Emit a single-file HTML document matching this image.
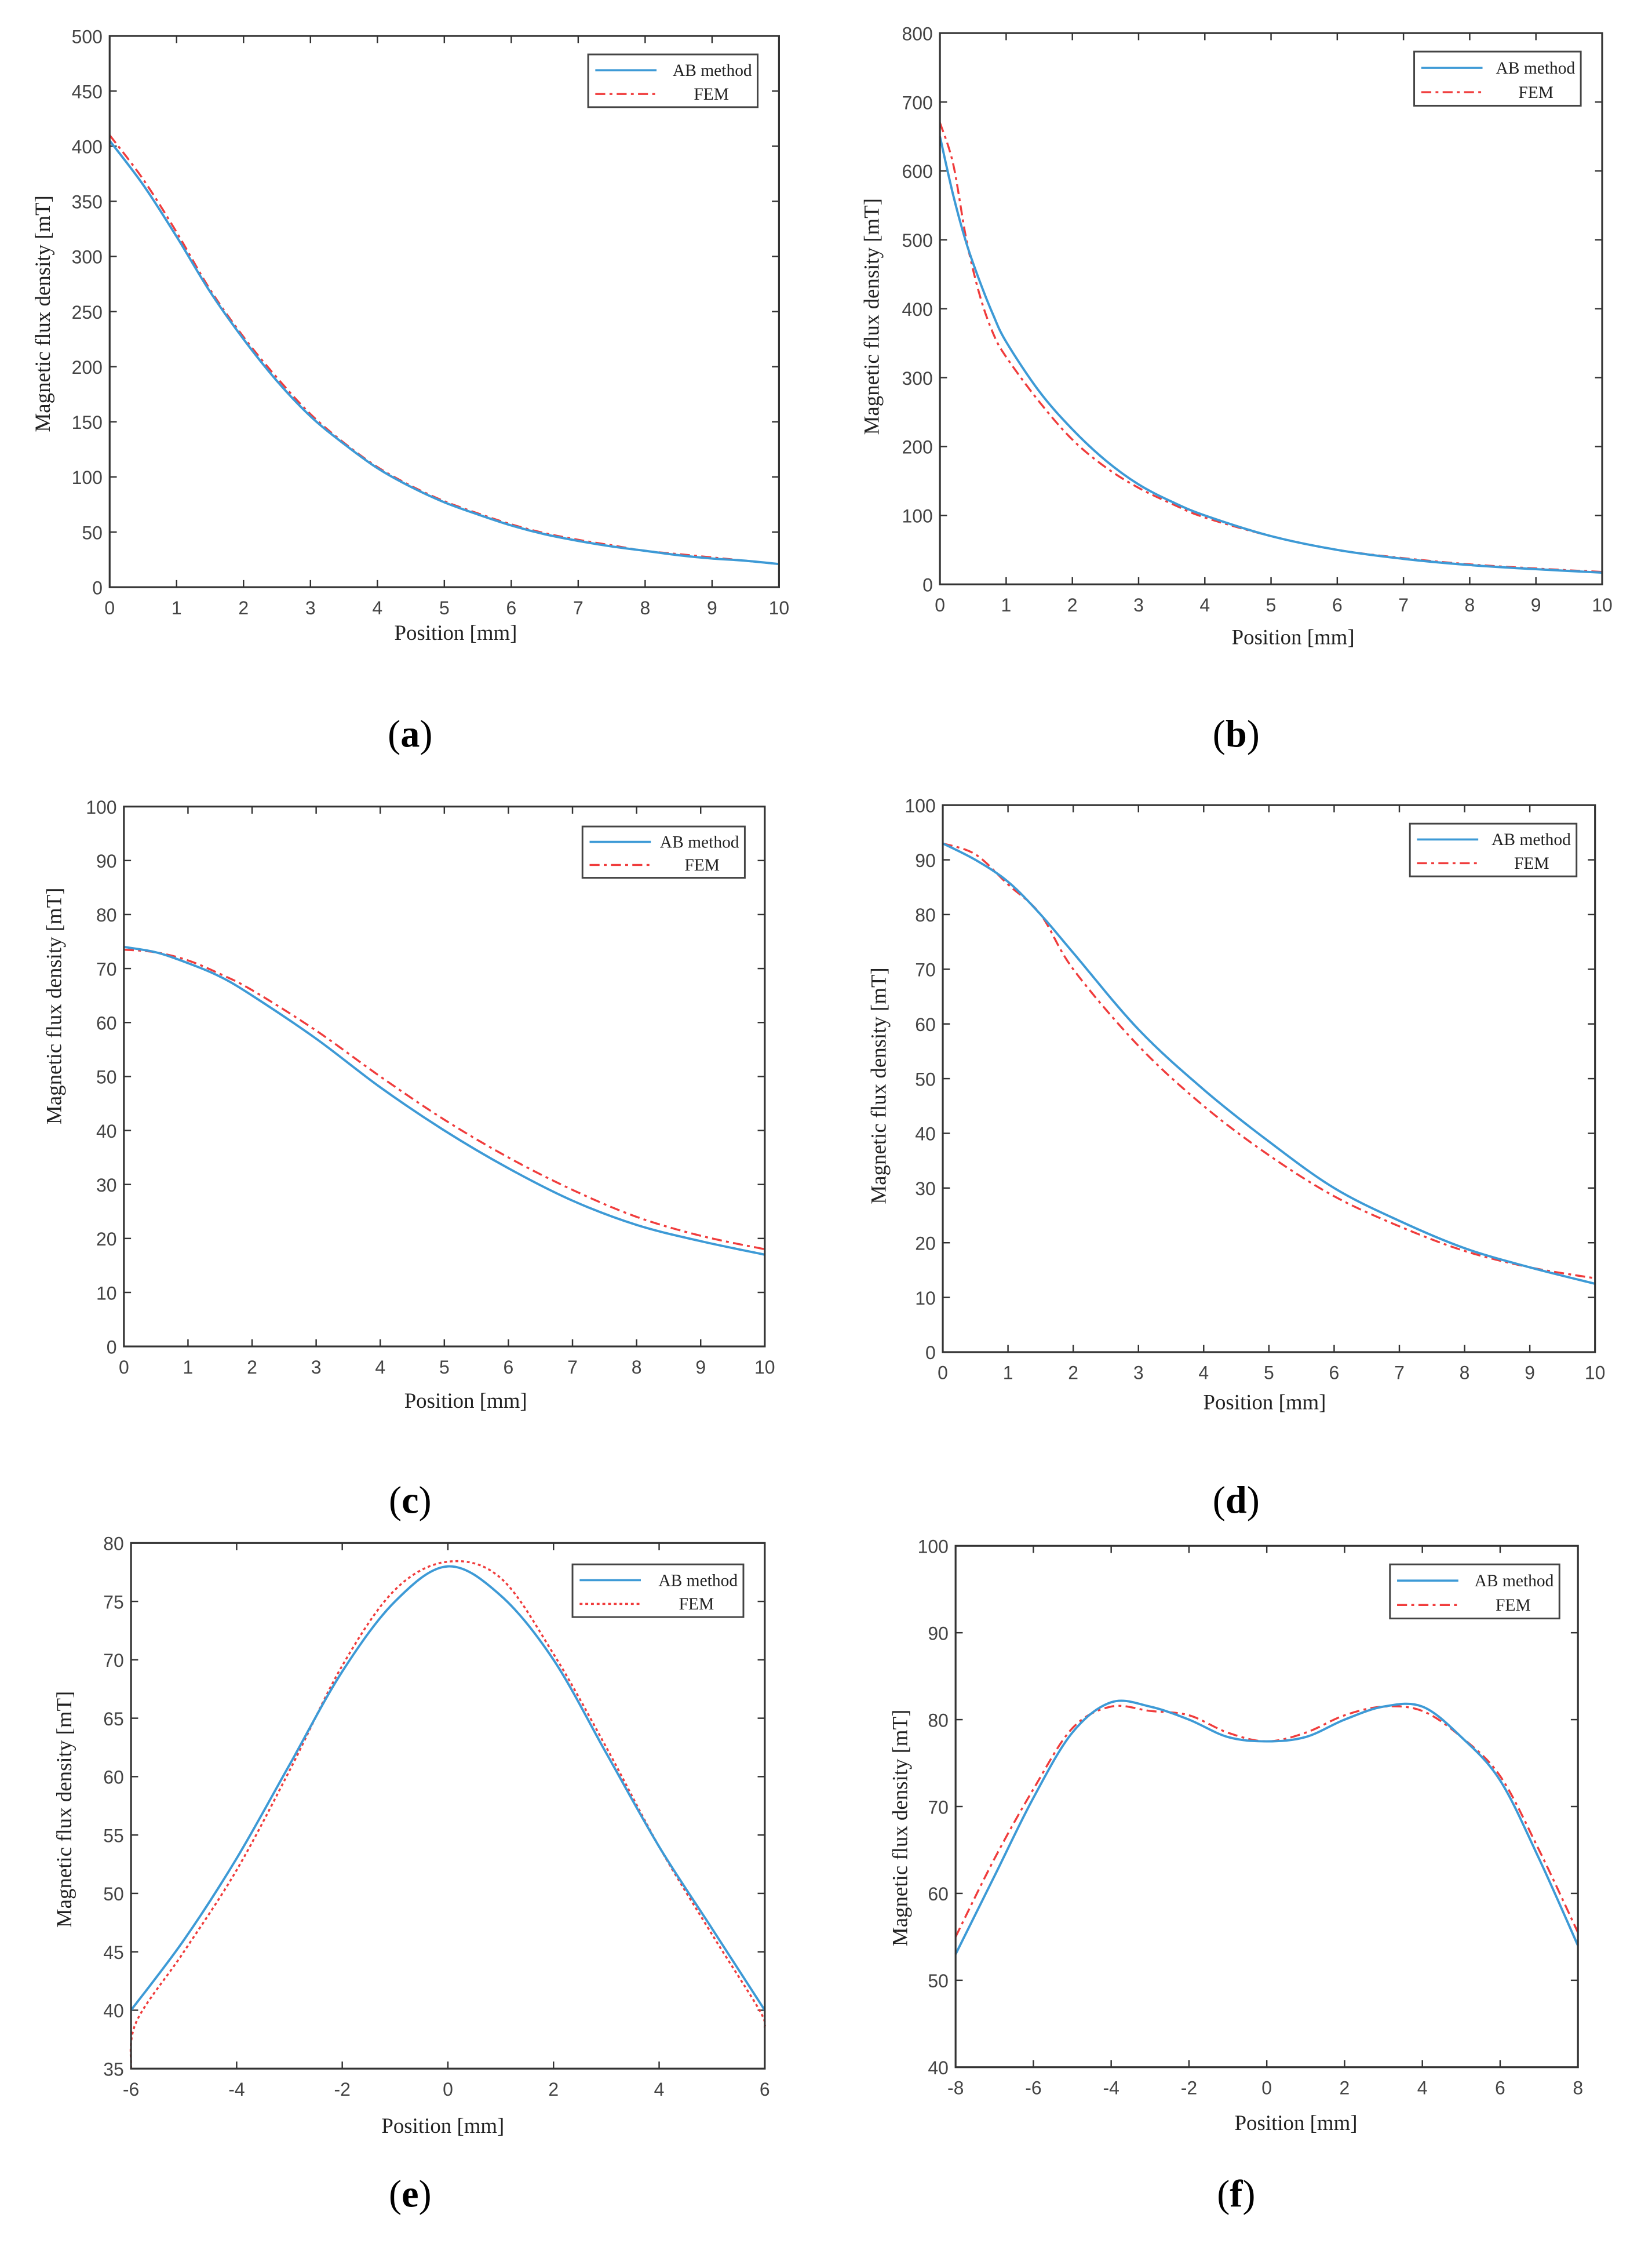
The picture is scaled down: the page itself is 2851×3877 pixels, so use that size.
<!DOCTYPE html>
<html><head><meta charset="utf-8">
<style>
html,body{margin:0;padding:0;background:#fff;}
svg{display:block;}
.tick{font-family:"Liberation Sans",sans-serif;font-size:13px;fill:#444;}
.lab{font-family:"Liberation Serif",serif;font-size:15px;fill:#222;}
.leg{font-family:"Liberation Serif",serif;font-size:12px;fill:#222;}
.pl{font-family:"Liberation Serif",serif;font-size:27px;fill:#000;}
</style></head>
<body>
<svg id="fig" width="2851" height="3877" viewBox="0 0 1160 1577" xmlns="http://www.w3.org/2000/svg"></svg>
<script>
// Panel (a)
const aX=[0,0.5,1,1.5,2,2.5,3,3.5,4,4.5,5,5.5,6,6.5,7,7.5,8,8.5,9,9.5,10];
const aAB=[405,365,318,268,225,187,155,130,108,91,77,66,56,48,42,37,33,29,26,24,21];
const aFEM=[410,370,322,270,227,190,157,131,109,92,78,67,57,49,43,38,33,30,27,24,21];
// Panel (b)
const bX=[0,0.2,0.4,0.6,0.8,1,1.5,2,2.5,3,3.5,4,5,6,7,8,9,10];
const bAB=[650,565,495,440,392,352,280,225,180,145,120,100,70,50,37,28,22,17];
const bFEM=[670,610,500,420,365,330,265,210,170,140,117,97,70,50,38,29,23,18];
// Panel (c)
const cX=[0,0.5,1,1.5,2,3,4,5,6,7,8,9,10];
const cAB=[74,73,71,68.5,65,57,48,40,33,27,22.5,19.5,17];
const cFEM=[73.5,73,71.5,69,66,58.5,50,42,35,29,24,20.5,18];
// Panel (d)
const dX=[0,0.5,1,1.5,2,3,4,5,6,7,8,9,10];
const dAB=[93,90,86,80,73,59,48,38.5,30,24,19,15.5,12.5];
const dFEM=[93,91,85.5,80,70,56,45,36,28.5,23,18.5,15.5,13.5];
// Panel (e)
const eX=[-6,-5,-4,-3,-2,-1,0,1,2,3,4,5,6];
const eAB=[40,46,53,61,69,75,78,75.5,70,62,54,47,40];
const eFEMX=[-6,-5.9,-5,-4,-3,-2,-1,0,1,2,3,4,5,5.9,6];
const eFEM=[35,39,45,52,60.5,69.5,76,78.4,77,70.5,62.5,54,46.5,40,38.5];
// Panel (f)
const fX=[-8,-7,-6,-5,-4,-3,-2,-1,0,1,2,3,4,5,6,7,8];
const fAB=[53,62,71,78.5,82,81.5,80,78,77.5,78,80,81.5,81.5,78,73,64,54];
const fFEM=[55,64,72,79,81.5,81,80.5,78.5,77.5,78.5,80.5,81.5,81,78,73.5,65,55.5];
// tick label arrays
const xT10=[0,1,2,3,4,5,6,7,8,9,10];
const yTa=[0,50,100,150,200,250,300,350,400,450,500];
const yTb=[0,100,200,300,400,500,600,700,800];
const yTc=[0,10,20,30,40,50,60,70,80,90,100];
const xTe=[-6,-4,-2,0,2,4,6];
const yTe=[35,40,45,50,55,60,65,70,75,80];
const xTf=[-8,-6,-4,-2,0,2,4,6,8];
const yTf=[40,50,60,70,80,90,100];

const NS="http://www.w3.org/2000/svg";
const svg=document.getElementById('fig');
function mk(tag,attrs,parent){const e=document.createElementNS(NS,tag);for(const k in attrs)e.setAttribute(k,attrs[k]);(parent||svg).appendChild(e);return e;}
function smooth(pts){let d='M'+pts[0][0]+','+pts[0][1];for(let i=0;i<pts.length-1;i++){const p0=pts[i-1]||pts[i],p1=pts[i],p2=pts[i+1],p3=pts[i+2]||p2;const c1x=p1[0]+(p2[0]-p0[0])/6,c1y=p1[1]+(p2[1]-p0[1])/6,c2x=p2[0]-(p3[0]-p1[0])/6,c2y=p2[1]-(p3[1]-p1[1])/6;d+=' C'+c1x+','+c1y+' '+c2x+','+c2y+' '+p2[0]+','+p2[1];}return d;}

function panel(P){
  const g=mk('g',{});
  
  
  const sx=v=>P.x0+(v-P.xmin)/(P.xmax-P.xmin)*(P.x1-P.x0);
  const sy=v=>P.y1-(v-P.ymin)/(P.ymax-P.ymin)*(P.y1-P.y0);
  P.xt.forEach(t=>{const x=sx(t);
    mk('line',{x1:x,x2:x,y1:P.y1,y2:P.y1-5,stroke:'#333','stroke-width':1},g);
    mk('line',{x1:x,x2:x,y1:P.y0,y2:P.y0+5,stroke:'#333','stroke-width':1},g);
    const tx=mk('text',{x:x,y:P.y1+19,'text-anchor':'middle',class:'tick'},g);tx.textContent=t;
    
    });
  P.yt.forEach(t=>{const y=sy(t);
    mk('line',{x1:P.x0,x2:P.x0+5,y1:y,y2:y,stroke:'#333','stroke-width':1},g);
    mk('line',{x1:P.x1,x2:P.x1-5,y1:y,y2:y,stroke:'#333','stroke-width':1},g);
    const tx=mk('text',{x:P.x0-5,y:y+5,'text-anchor':'end',class:'tick'},g);tx.textContent=t;
    
    });
  const pFem=mk('path',{d:smooth(P.fx.map((v,i)=>[sx(v),sy(P.fem[i])])),fill:'none',stroke:'#f03c3c','stroke-width':1.4,'stroke-dasharray':P.dot?'2,2':'7,3,2,3'},g);
  
  
  const pAb=mk('path',{d:smooth(P.ax.map((v,i)=>[sx(v),sy(P.ab[i])])),fill:'none',stroke:'#3d9ad6','stroke-width':1.6},g);
  
  
  mk('rect',{x:P.x0,y:P.y0,width:P.x1-P.x0,height:P.y1-P.y0,fill:'none',stroke:'#333','stroke-width':1.3},g);
  const L=P.leg;
  const lg=mk('g',{},g);
  
  
  mk('rect',{x:L[0],y:L[1],width:L[2]-L[0],height:L[3]-L[1],fill:'#fff',stroke:'#444','stroke-width':1.2},lg);
  const ym1=L[1]+(L[3]-L[1])*0.3,ym2=L[1]+(L[3]-L[1])*0.75;
  mk('line',{x1:L[0]+5,x2:L[0]+48,y1:ym1,y2:ym1,stroke:'#3d9ad6','stroke-width':1.5},lg);
  mk('line',{x1:L[0]+5,x2:L[0]+48,y1:ym2,y2:ym2,stroke:'#f03c3c','stroke-width':1.4,'stroke-dasharray':P.dot?'2,2':'7,3,2,3'},lg);
  const t1=mk('text',{x:L[2]-4,y:ym1+4,'text-anchor':'end',class:'leg'},lg);t1.textContent='AB method';
  const t2=mk('text',{x:(L[0]+48+L[2])/2+3,y:ym2+4,'text-anchor':'middle',class:'leg'},lg);t2.textContent='FEM';
  const xl=mk('text',{x:P.xl[0],y:P.xl[1],'text-anchor':'middle',class:'lab'},g);xl.textContent='Position [mm]';
  
  
  const yl=mk('text',{x:0,y:0,'text-anchor':'middle',class:'lab',transform:'translate('+P.yl[0]+','+P.yl[1]+') rotate(-90)'},g);yl.textContent='Magnetic flux density [mT]';
  
  
  const pl=mk('text',{x:P.pl[0],y:P.pl[1],'text-anchor':'middle',class:'pl'},g);
  pl.innerHTML='(<tspan font-weight="bold">'+P.id+'</tspan>)';
  
  
}
panel({id:'a',x0:77,x1:547,y0:25,y1:412,xmin:0,xmax:10,ymin:0,ymax:500,xt:xT10,yt:yTa,ax:aX,ab:aAB,fx:aX,fem:aFEM,leg:[413,38,532,75],xl:[320,449],yl:[35,220],pl:[288,524]});
panel({id:'b',x0:660,x1:1125,y0:23,y1:410,xmin:0,xmax:10,ymin:0,ymax:800,xt:xT10,yt:yTb,ax:bX,ab:bAB,fx:bX,fem:bFEM,leg:[993,36,1110,74],xl:[908,452],yl:[617,222],pl:[868,524]});
panel({id:'c',x0:87,x1:537,y0:566,y1:945,xmin:0,xmax:10,ymin:0,ymax:100,xt:xT10,yt:yTc,ax:cX,ab:cAB,fx:cX,fem:cFEM,leg:[409,580,523,616],xl:[327,988],yl:[43,706],pl:[288,1062]});
panel({id:'d',x0:662,x1:1120,y0:565,y1:949,xmin:0,xmax:10,ymin:0,ymax:100,xt:xT10,yt:yTc,ax:dX,ab:dAB,fx:dX,fem:dFEM,leg:[990,578,1107,615],xl:[888,989],yl:[622,762],pl:[868,1062]});
panel({id:'e',x0:92,x1:537,y0:1083,y1:1452,xmin:-6,xmax:6,ymin:35,ymax:80,xt:xTe,yt:yTe,ax:eX,ab:eAB,fx:eFEMX,fem:eFEM,dot:true,leg:[402,1098,522,1135],xl:[311,1497],yl:[50,1270],pl:[288,1549]});
panel({id:'f',x0:671,x1:1108,y0:1085,y1:1451,xmin:-8,xmax:8,ymin:40,ymax:100,xt:xTf,yt:yTf,ax:fX,ab:fAB,fx:fX,fem:fFEM,leg:[976,1098,1095,1136],xl:[910,1495],yl:[637,1283],pl:[868,1549]});
</script>
</body></html>
